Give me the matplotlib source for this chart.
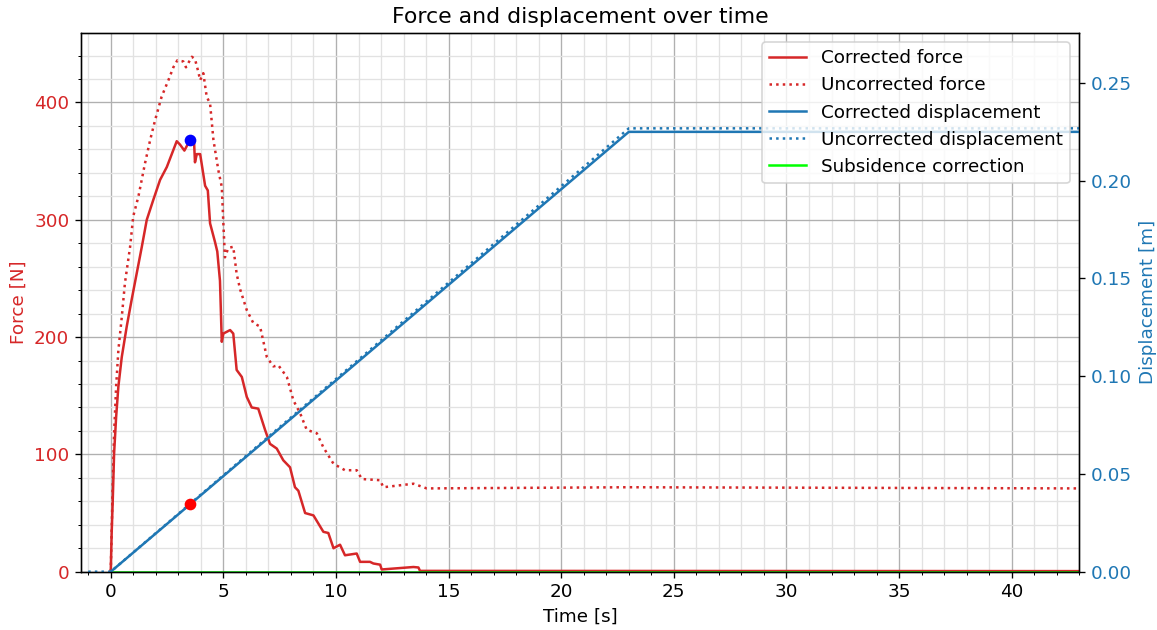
import numpy as np
import matplotlib.pyplot as plt

plt.rcParams['font.size'] = 11

# force curves [N]
t_force_corr = [0.0, 0.04, 0.09, 0.15, 0.24, 0.34, 0.49, 0.71, 0.93, 1.15, 1.38, 1.6, 1.89,
                2.19, 2.49, 2.71, 2.93, 3.08, 3.27, 3.52, 3.7, 3.74, 3.82, 3.97, 4.19, 4.31,
                4.41, 4.63, 4.73, 4.85, 4.93, 5.0, 5.3, 5.44, 5.59, 5.82, 6.04, 6.26, 6.55,
                6.85, 7.07, 7.37, 7.66, 7.96, 8.18, 8.33, 8.63, 9.0, 9.44, 9.66, 9.89, 10.18,
                10.4, 10.92, 11.07, 11.51, 11.66, 11.96, 12.03, 13.44, 13.66, 13.73, 43.0]
force_corr = [0, 32, 61, 101, 132, 158, 183, 209, 232, 254, 277, 300, 317,
              334, 345, 356, 367, 364, 359, 368, 366, 349, 356, 356, 329, 325,
              297, 281, 273, 248, 196, 203, 206, 203, 172, 166, 149, 140, 139,
              121, 109, 105, 95, 89, 72, 69, 50, 48, 34, 33, 20, 23,
              14, 15.5, 8.4, 8.4, 7, 6, 1.9, 4, 3.6, 0.7, 0.5]

t_force_raw = [0.0, 0.09, 0.15, 0.24, 0.34, 0.49, 0.63, 0.86, 1.0, 1.23, 1.52, 1.75, 1.97,
               2.26, 2.56, 2.78, 2.96, 3.22, 3.34, 3.6, 3.74, 3.89, 3.97, 4.11, 4.26, 4.41,
               4.56, 4.78, 4.93, 5.0, 5.07, 5.22, 5.44, 5.59, 5.74, 6.04, 6.33, 6.63, 6.93,
               7.22, 7.44, 7.82, 8.11, 8.41, 8.7, 9.15, 9.44, 9.89, 10.4, 10.92, 11.15,
               11.96, 12.1, 13.44, 14.03, 23.0, 43.0]
force_raw = [0, 75, 118, 158, 189, 217, 246, 277, 303, 320, 348, 368, 385,
             405, 419, 430, 436, 435, 430, 439, 437, 426, 419, 425, 405, 399,
             368, 342, 328, 297, 268, 276, 277, 254, 241, 223, 212, 209, 183,
             175, 176, 166, 146, 135, 121, 118, 106, 92, 86.5, 86.5, 79,
             78, 72, 75, 71, 72, 71]

# displacement [m]
t_disp_corr = [0.0, 23.0, 43.0]
disp_corr = [0.0, 0.2249, 0.2249]
t_disp_raw = [-1.0, 0.0, 23.0, 43.0]
disp_raw = [0.0, 0.0, 0.2267, 0.2267]

# subsidence correction
t_sub = [0.0, 43.0]
sub = [0.0, 0.0]

# peak
t_peak = 3.52
f_peak = 368
d_peak = np.interp(t_peak, t_disp_corr, disp_corr)

fig, ax1 = plt.subplots(figsize=(1157 / 120, 630 / 120), dpi=120)
fig.subplots_adjust(left=81 / 1157, right=1079.3 / 1157, top=1 - 32.7 / 630, bottom=1 - 571.7 / 630)

l1, = ax1.plot(t_force_corr, force_corr, color='tab:red', label='Corrected force')
l2, = ax1.plot(t_force_raw, force_raw, color='tab:red', linestyle=':', label='Uncorrected force')
l5, = ax1.plot(t_sub, sub, color='lime', label='Subsidence correction')
ax1.plot(t_peak, f_peak, 'o', color='blue')

ax1.set_xlabel('Time [s]')
ax1.set_ylabel('Force [N]', color='tab:red')
ax1.tick_params(axis='y', labelcolor='tab:red')
ax1.set_xlim(-1.32, 43.0)
ax1.set_ylim(0, 459.5)
ax1.minorticks_on()
ax1.grid(True, which='major', color='#b0b0b0', linewidth=0.8)
ax1.grid(True, which='minor', color='#e2e2e2', linewidth=0.8)

ax2 = ax1.twinx()
l3, = ax2.plot(t_disp_corr, disp_corr, color='tab:blue', label='Corrected displacement')
l4, = ax2.plot(t_disp_raw, disp_raw, color='tab:blue', linestyle=':', label='Uncorrected displacement')
ax2.plot(t_peak, d_peak, 'o', color='red')
ax2.set_ylabel('Displacement [m]', color='tab:blue')
ax2.tick_params(axis='y', labelcolor='tab:blue')
ax2.set_ylim(0, 0.2756)

ax2.legend(handles=[l1, l2, l3, l4, l5], loc='upper right')
ax1.set_title('Force and displacement over time')

fig.savefig('out.png', dpi=120)
